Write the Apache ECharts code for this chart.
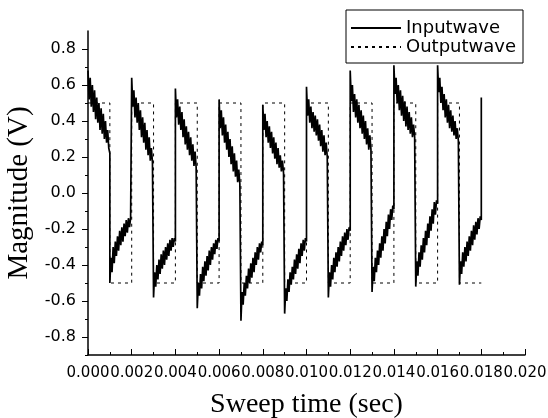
<!DOCTYPE html>
<html>
<head>
<meta charset="utf-8">
<script src="https://cdn.jsdelivr.net/npm/echarts@6/dist/echarts.min.js"></script>
<style>
  html, body { margin: 0; padding: 0; background: #fff; }
  #chart { width: 548px; height: 418px; }
</style>
</head>
<body>
<div id="chart"></div>
<script>
// half period of the square wave (sec) and sample times inside one half period
const halfPeriod = 0.001;
const sampleOffsets = [0, 0.00005, 0.0001, 0.00015, 0.0002, 0.00025, 0.0003, 0.00035, 0.0004, 0.00045,
    0.0005, 0.00055, 0.0006, 0.00065, 0.0007, 0.00075, 0.0008, 0.00085, 0.0009, 0.00095, 0.001];

// output wave level for each half period
const outputLevels = [0.5, -0.5, 0.5, -0.5, 0.5, -0.5, 0.5, -0.5, 0.5, -0.5,
    0.5, -0.5, 0.5, -0.5, 0.5, -0.5, 0.5, -0.5];

// input wave (noisy), one row per half period
const inputSegments = [
    [0.68, 0.52, 0.64, 0.48, 0.60, 0.45, 0.57, 0.41, 0.53, 0.39, 0.50, 0.35, 0.47, 0.33, 0.44, 0.30, 0.40, 0.28, 0.35, 0.25, 0.22],
    [-0.50, -0.36, -0.44, -0.30, -0.39, -0.27, -0.35, -0.24, -0.32, -0.21, -0.29, -0.19, -0.27, -0.17, -0.24, -0.15, -0.22, -0.14, -0.19, -0.14, -0.14],
    [0.64, 0.48, 0.57, 0.42, 0.53, 0.39, 0.50, 0.35, 0.46, 0.31, 0.42, 0.28, 0.39, 0.24, 0.35, 0.21, 0.31, 0.18, 0.25, 0.17, 0.16],
    [-0.58, -0.44, -0.52, -0.40, -0.48, -0.37, -0.45, -0.34, -0.42, -0.32, -0.40, -0.30, -0.37, -0.28, -0.35, -0.26, -0.32, -0.25, -0.30, -0.25, -0.27],
    [0.58, 0.42, 0.52, 0.38, 0.48, 0.35, 0.45, 0.31, 0.41, 0.27, 0.37, 0.24, 0.34, 0.21, 0.31, 0.18, 0.27, 0.15, 0.23, 0.14, 0.14],
    [-0.64, -0.50, -0.57, -0.45, -0.53, -0.41, -0.49, -0.38, -0.46, -0.35, -0.43, -0.32, -0.40, -0.30, -0.37, -0.28, -0.34, -0.26, -0.31, -0.25, -0.27],
    [0.52, 0.36, 0.46, 0.32, 0.42, 0.28, 0.38, 0.24, 0.34, 0.20, 0.30, 0.16, 0.26, 0.12, 0.22, 0.09, 0.18, 0.06, 0.13, 0.05, 0.05],
    [-0.71, -0.55, -0.62, -0.50, -0.57, -0.46, -0.53, -0.42, -0.50, -0.39, -0.47, -0.36, -0.44, -0.33, -0.40, -0.30, -0.37, -0.28, -0.33, -0.27, -0.29],
    [0.49, 0.35, 0.44, 0.31, 0.40, 0.28, 0.37, 0.25, 0.34, 0.22, 0.31, 0.19, 0.28, 0.16, 0.25, 0.14, 0.21, 0.12, 0.18, 0.11, 0.12],
    [-0.67, -0.53, -0.60, -0.48, -0.55, -0.44, -0.51, -0.41, -0.48, -0.37, -0.45, -0.34, -0.42, -0.31, -0.39, -0.28, -0.35, -0.26, -0.32, -0.25, -0.27],
    [0.59, 0.43, 0.52, 0.39, 0.48, 0.36, 0.45, 0.34, 0.43, 0.32, 0.41, 0.29, 0.38, 0.26, 0.35, 0.23, 0.32, 0.21, 0.28, 0.20, 0.20],
    [-0.58, -0.44, -0.52, -0.40, -0.48, -0.36, -0.44, -0.33, -0.41, -0.30, -0.38, -0.27, -0.35, -0.24, -0.32, -0.22, -0.29, -0.20, -0.26, -0.19, -0.21],
    [0.68, 0.51, 0.60, 0.45, 0.55, 0.42, 0.52, 0.39, 0.49, 0.36, 0.46, 0.33, 0.43, 0.30, 0.40, 0.27, 0.36, 0.24, 0.32, 0.24, 0.24],
    [-0.55, -0.41, -0.49, -0.36, -0.44, -0.32, -0.40, -0.28, -0.36, -0.24, -0.32, -0.20, -0.28, -0.16, -0.24, -0.12, -0.20, -0.09, -0.15, -0.07, -0.09],
    [0.71, 0.55, 0.64, 0.50, 0.60, 0.46, 0.57, 0.43, 0.54, 0.40, 0.51, 0.37, 0.48, 0.35, 0.45, 0.33, 0.42, 0.31, 0.38, 0.31, 0.31],
    [-0.52, -0.38, -0.46, -0.33, -0.41, -0.29, -0.37, -0.25, -0.33, -0.21, -0.29, -0.17, -0.25, -0.13, -0.21, -0.09, -0.17, -0.05, -0.12, -0.04, -0.06],
    [0.71, 0.56, 0.64, 0.50, 0.59, 0.46, 0.55, 0.42, 0.52, 0.39, 0.49, 0.36, 0.46, 0.34, 0.43, 0.32, 0.40, 0.30, 0.36, 0.29, 0.29],
    [-0.51, -0.38, -0.45, -0.33, -0.41, -0.30, -0.38, -0.27, -0.35, -0.24, -0.32, -0.21, -0.29, -0.18, -0.26, -0.16, -0.23, -0.14, -0.20, -0.13, -0.15],
];
// last rising edge of the input at the end of the record
const inputEnd = [0.018, 0.53];

// axis ticks
const yMajorTicks = [-0.8, -0.6, -0.4, -0.2, 0, 0.2, 0.4, 0.6, 0.8];
const yMinorTicks = [-0.9, -0.7, -0.5, -0.3, -0.1, 0.1, 0.3, 0.5, 0.7];

function buildOutput() {
    const pts = [];
    outputLevels.forEach((lv, i) => {
        pts.push([i * halfPeriod, lv]);
        pts.push([(i + 1) * halfPeriod, lv]);
    });
    return pts;
}

function buildInput() {
    const pts = [];
    inputSegments.forEach((seg, i) => {
        seg.forEach((v, j) => {
            pts.push([i * halfPeriod + sampleOffsets[j], v]);
        });
    });
    pts.push(inputEnd);
    return pts;
}

const chart = echarts.init(document.getElementById('chart'));
const labelFont = {
    color: '#000',
    fontFamily: 'DejaVu Sans',
    fontSize: 16,
};

const option = {
    backgroundColor: '#fff',
    animation: false,
    grid: {
        left: 88,
        right: 23,
        top: 31,
        bottom: 63,
        containLabel: false,
        outerBoundsMode: 'none',
    },
    legend: {
        orient: 'vertical',
        left: 346,
        top: 10,
        align: 'left',
        padding: [9, 7, 7, 4],
        itemWidth: 50,
        itemHeight: 14,
        itemGap: 1,
        borderColor: '#000',
        borderWidth: 1,
        borderRadius: 0,
        itemStyle: { opacity: 0 },
        textStyle: {
            color: '#000',
            fontFamily: 'DejaVu Sans',
            fontSize: 18,
        },
        data: ['Inputwave', 'Outputwave'],
    },
    xAxis: {
        type: 'value',
        min: 0,
        max: 0.02,
        interval: 0.002,
        name: 'Sweep time (sec)',
        nameLocation: 'middle',
        nameGap: 36,
        nameTextStyle: {
            color: '#000',
            fontFamily: 'Liberation Serif',
            fontSize: 28,
        },
        axisLine: { show: true, onZero: false, lineStyle: { color: '#000', width: 1.5 } },
        axisTick: { show: true, inside: true, length: 6, lineStyle: { color: '#000' } },
        minorTick: { show: true, splitNumber: 2, length: 3, lineStyle: { color: '#000' } },
        axisLabel: {
            ...labelFont,
            fontSize: 15,
            margin: 11,
            showMinLabel: true,
            showMaxLabel: true,
            hideOverlap: false,
            formatter: v => v.toFixed(3),
        },
        splitLine: { show: false },
    },
    yAxis: [
        {
            type: 'value',
            min: -0.9,
            max: 0.9,
            position: 'left',
            name: 'Magnitude (V)',
            nameLocation: 'middle',
            nameGap: 53,
            nameTextStyle: {
                color: '#000',
                fontFamily: 'Liberation Serif',
                fontSize: 29,
            },
            axisLine: { show: true, onZero: false, lineStyle: { color: '#000', width: 1.5 } },
            axisTick: { show: true, length: 6, customValues: yMajorTicks, lineStyle: { color: '#000' } },
            axisLabel: {
                ...labelFont,
                margin: 12,
                customValues: yMajorTicks,
                formatter: v => v.toFixed(1),
            },
            splitLine: { show: false },
        },
        {
            type: 'value',
            min: -0.9,
            max: 0.9,
            position: 'left',
            axisLine: { show: false, onZero: false },
            axisTick: { show: true, length: 3, customValues: yMinorTicks, lineStyle: { color: '#000' } },
            axisLabel: { show: false },
            splitLine: { show: false },
        },
    ],
    series: [
        {
            name: 'Inputwave',
            type: 'line',
            symbol: 'none',
            yAxisIndex: 0,
            lineStyle: { color: '#000', width: 1.7 },
            itemStyle: { color: '#000' },
            data: buildInput(),
        },
        {
            name: 'Outputwave',
            type: 'line',
            symbol: 'none',
            yAxisIndex: 0,
            lineStyle: { color: '#000', width: 1, type: [3, 4] },
            itemStyle: { color: '#000' },
            data: buildOutput(),
        },
    ],
};

chart.setOption(option);
</script>
</body>
</html>
